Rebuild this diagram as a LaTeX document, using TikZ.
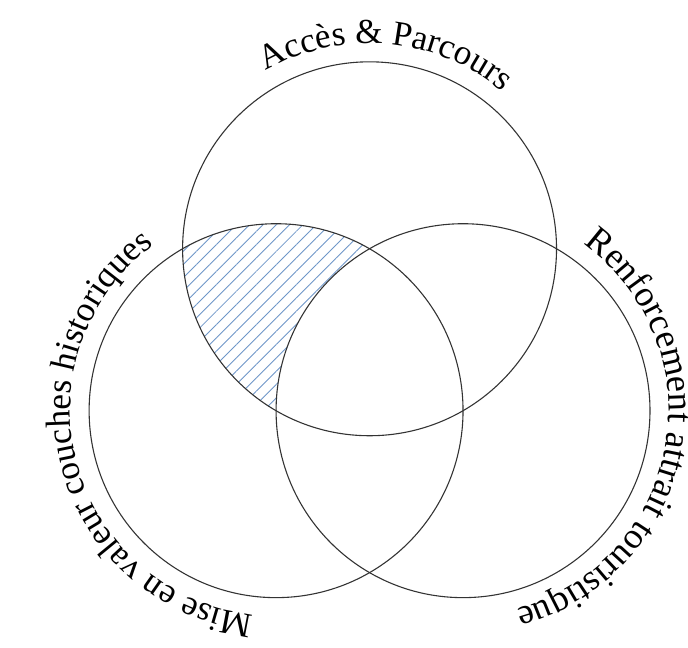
\documentclass[tikz,border=0pt]{standalone}
\usepackage{fontspec}
\setmainfont{Liberation Serif}
\usetikzlibrary{decorations.text,patterns.meta}
\definecolor{hatchblue}{RGB}{110,150,200}
\newcommand{\vennfont}{\fontsize{16}{19}\selectfont}
\newcommand{\vennfontwide}{\fontsize{16.6}{19}\selectfont}

\begin{document}
\begin{tikzpicture}[
    venn/.style={draw=black!80, line width=0.5pt},
    curvetext/.style={decorate, decoration={text along path, text align=center, text={#1}}}
]
    \useasboundingbox (-4.43,-3.80) rectangle (6.61,6.59);
    \coordinate (mise) at (0,0);
    \coordinate (renfort) at (3,0);
    \coordinate (acces) at (1.5,2.598);

    % hatched part: acces and mise, not renfort
    \begin{scope}
        \clip (acces) circle (3);
        \clip (mise) circle (3);
        \fill [pattern={Lines[angle=45,distance=4.3pt,line width=0.4pt]}, pattern color=hatchblue, even odd rule] (renfort) circle (3) (-5,-5) rectangle (8,8);
    \end{scope}

    \draw [venn] (acces) circle (3);
    \draw [venn] (mise) circle (3);
    \draw [venn] (renfort) circle (3);

    \path [curvetext={|\vennfont|Accès {\&} Parcours}] (acces) ++(135:3.3) arc (135:35:3.3);
    \path [curvetext={|\vennfont|Mise en valeur couches historiques}] (mise) ++(290:3.3) arc (290:100:3.3);
    \path [curvetext={|\vennfontwide|Renforcement attrait touristique}] (renfort) ++(79.5:3.3) arc (79.5:-100.5:3.3);
\end{tikzpicture}
\end{document}
